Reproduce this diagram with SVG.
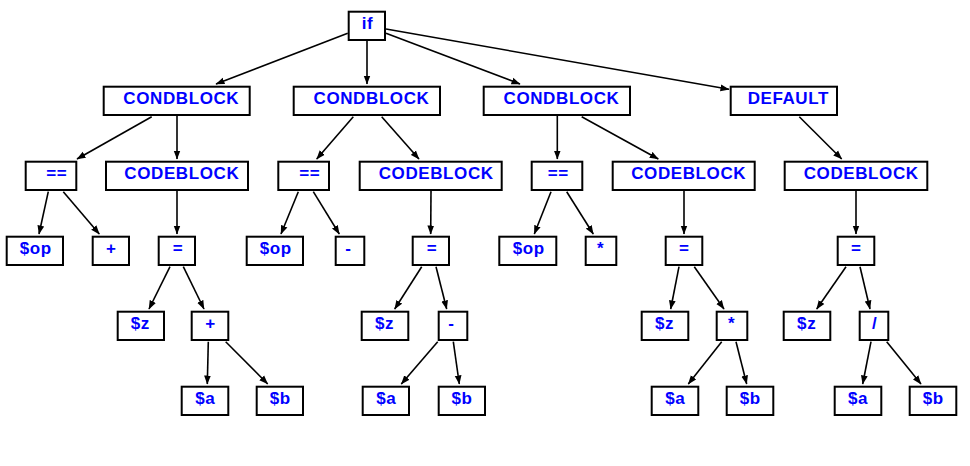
<svg xmlns="http://www.w3.org/2000/svg" width="970" height="466" viewBox="0 0 970 466">
<style>
rect{fill:#fff;stroke:#000;stroke-width:2}
text{font-family:"Liberation Sans",Arial,sans-serif;font-weight:bold;font-size:17px;fill:#0000ff;text-anchor:middle;letter-spacing:0.6px}
#edges line{stroke:#000;stroke-width:1.6;marker-end:url(#ah)}
</style>
<defs>
<marker id="ah" markerUnits="userSpaceOnUse" markerWidth="10" markerHeight="8" refX="8.5" refY="4" orient="auto"><path d="M0,0.6 L9,4 L0,7.4 z" fill="#000"/></marker>
</defs>
<rect width="970" height="466" style="stroke:none"/>
<g id="edges">
<line x1="347.7" y1="33.3" x2="216" y2="84"/>
<line x1="367" y1="41" x2="367" y2="84"/>
<line x1="386" y1="33.3" x2="520" y2="84"/>
<line x1="386" y1="29" x2="729" y2="89.3"/>
<line x1="151.7" y1="116.7" x2="77" y2="159"/>
<line x1="177" y1="116" x2="177" y2="159"/>
<line x1="353.3" y1="116.7" x2="316.7" y2="159"/>
<line x1="381.7" y1="116.7" x2="419" y2="159"/>
<line x1="557.3" y1="116" x2="557.3" y2="159"/>
<line x1="581.7" y1="116.7" x2="658.3" y2="159"/>
<line x1="799.3" y1="116.7" x2="841.7" y2="159"/>
<line x1="48.3" y1="191.7" x2="39" y2="234"/>
<line x1="63.3" y1="191.7" x2="99.3" y2="234"/>
<line x1="177" y1="191" x2="177" y2="234"/>
<line x1="298.3" y1="191.7" x2="281" y2="234"/>
<line x1="313.3" y1="191.7" x2="339.3" y2="234"/>
<line x1="431" y1="191" x2="430.7" y2="234"/>
<line x1="551" y1="191.7" x2="534.3" y2="234"/>
<line x1="566.7" y1="191.7" x2="593.3" y2="234"/>
<line x1="684" y1="191" x2="684" y2="234"/>
<line x1="856" y1="191" x2="856" y2="234"/>
<line x1="170" y1="266.7" x2="149" y2="309"/>
<line x1="183.3" y1="266.7" x2="204" y2="309"/>
<line x1="421.7" y1="266.7" x2="394.7" y2="309"/>
<line x1="436" y1="266.7" x2="446.7" y2="309"/>
<line x1="679" y1="266.7" x2="670.7" y2="309"/>
<line x1="694.3" y1="266.7" x2="724" y2="309"/>
<line x1="846" y1="266.7" x2="816.7" y2="309"/>
<line x1="860" y1="266.7" x2="870" y2="309"/>
<line x1="208.3" y1="341.7" x2="207.3" y2="384"/>
<line x1="225.7" y1="341.7" x2="267.7" y2="384"/>
<line x1="437.7" y1="341.7" x2="401.3" y2="384"/>
<line x1="453.3" y1="341.7" x2="459.3" y2="384"/>
<line x1="721.7" y1="341.7" x2="688.3" y2="384"/>
<line x1="736" y1="341.7" x2="746.7" y2="384"/>
<line x1="871" y1="341.7" x2="862.7" y2="384"/>
<line x1="886.7" y1="341.7" x2="921" y2="384"/>
</g>
<g id="n_if"><rect x="348.7" y="11.7" width="36.3" height="28.3"/><text x="367.5" y="29">if</text></g>
<g id="n_cb1"><rect x="103.7" y="86.7" width="146" height="28.3"/><text x="181.3" y="104">CONDBLOCK</text></g>
<g id="n_cb2"><rect x="293.7" y="86.7" width="146.3" height="28.3"/><text x="371.5" y="104">CONDBLOCK</text></g>
<g id="n_cb3"><rect x="483.7" y="86.7" width="146.3" height="28.3"/><text x="561.5" y="104">CONDBLOCK</text></g>
<g id="n_def"><rect x="730.7" y="86.7" width="106.3" height="28.3"/><text x="788.3" y="104">DEFAULT</text></g>
<g id="n_eq1"><rect x="25.7" y="161.7" width="50.6" height="28.3"/><text x="56.7" y="179">==</text></g>
<g id="n_code1"><rect x="106" y="161.7" width="142" height="28.3"/><text x="181.8" y="179">CODEBLOCK</text></g>
<g id="n_eq2"><rect x="278.3" y="161.7" width="50.7" height="28.3"/><text x="309.7" y="179">==</text></g>
<g id="n_code2"><rect x="359.7" y="161.7" width="142" height="28.3"/><text x="436.2" y="179">CODEBLOCK</text></g>
<g id="n_eq3"><rect x="531.7" y="161.7" width="50.6" height="28.3"/><text x="558.3" y="179">==</text></g>
<g id="n_code3"><rect x="612.7" y="161.7" width="142" height="28.3"/><text x="688.7" y="179">CODEBLOCK</text></g>
<g id="n_code4"><rect x="784.7" y="161.7" width="142.6" height="28.3"/><text x="861.2" y="179">CODEBLOCK</text></g>
<g id="n_op1"><rect x="6.7" y="236.7" width="56.3" height="28.3"/><text x="35.8" y="254">$op</text></g>
<g id="n_plus1"><rect x="92.7" y="236.7" width="36.3" height="28.3"/><text x="111.3" y="254">+</text></g>
<g id="n_as1"><rect x="158.7" y="236.7" width="36.3" height="28.3"/><text x="178" y="254">=</text></g>
<g id="n_op2"><rect x="246.7" y="236.7" width="56.3" height="28.3"/><text x="275.8" y="254">$op</text></g>
<g id="n_minus1"><rect x="335.7" y="236.7" width="28.6" height="28.3"/><text x="348.5" y="254">-</text></g>
<g id="n_as2"><rect x="412.7" y="236.7" width="36.3" height="28.3"/><text x="432" y="254">=</text></g>
<g id="n_op3"><rect x="499.3" y="236.7" width="57" height="28.3"/><text x="528.8" y="254">$op</text></g>
<g id="n_mul1"><rect x="585.7" y="236.7" width="30.6" height="28.3"/><text x="600.7" y="254">*</text></g>
<g id="n_as3"><rect x="665.7" y="236.7" width="36.6" height="28.3"/><text x="684.3" y="254">=</text></g>
<g id="n_as4"><rect x="837.7" y="236.7" width="36.6" height="28.3"/><text x="856.3" y="254">=</text></g>
<g id="n_z1"><rect x="117.7" y="311.7" width="46.3" height="28.3"/><text x="140.3" y="329">$z</text></g>
<g id="n_plus2"><rect x="191.7" y="311.7" width="36.6" height="28.3"/><text x="210.5" y="329">+</text></g>
<g id="n_z2"><rect x="361.7" y="311.7" width="46.6" height="28.3"/><text x="384.5" y="329">$z</text></g>
<g id="n_minus2"><rect x="438.7" y="311.7" width="28.6" height="28.3"/><text x="451.5" y="329">-</text></g>
<g id="n_z3"><rect x="641.7" y="311.7" width="46.6" height="28.3"/><text x="664.5" y="329">$z</text></g>
<g id="n_mul2"><rect x="716.7" y="311.7" width="30.6" height="28.3"/><text x="731.7" y="329">*</text></g>
<g id="n_z4"><rect x="783.7" y="311.7" width="46.6" height="28.3"/><text x="806.7" y="329">$z</text></g>
<g id="n_div"><rect x="859.7" y="311.7" width="28.6" height="28.3"/><text x="874.7" y="329">/</text></g>
<g id="n_a1"><rect x="181.7" y="386.7" width="46.6" height="28.3"/><text x="205.3" y="404">$a</text></g>
<g id="n_b1"><rect x="256.7" y="386.7" width="46.3" height="28.3"/><text x="280.3" y="404">$b</text></g>
<g id="n_a2"><rect x="362.7" y="386.7" width="46.3" height="28.3"/><text x="386.2" y="404">$a</text></g>
<g id="n_b2"><rect x="438.7" y="386.7" width="46.3" height="28.3"/><text x="462" y="404">$b</text></g>
<g id="n_a3"><rect x="651.7" y="386.7" width="46.6" height="28.3"/><text x="675.3" y="404">$a</text></g>
<g id="n_b3"><rect x="726.7" y="386.7" width="46.6" height="28.3"/><text x="750.3" y="404">$b</text></g>
<g id="n_a4"><rect x="834.7" y="386.7" width="46.6" height="28.3"/><text x="858" y="404">$a</text></g>
<g id="n_b4"><rect x="909.7" y="386.7" width="46.6" height="28.3"/><text x="933.3" y="404">$b</text></g>
</svg>
